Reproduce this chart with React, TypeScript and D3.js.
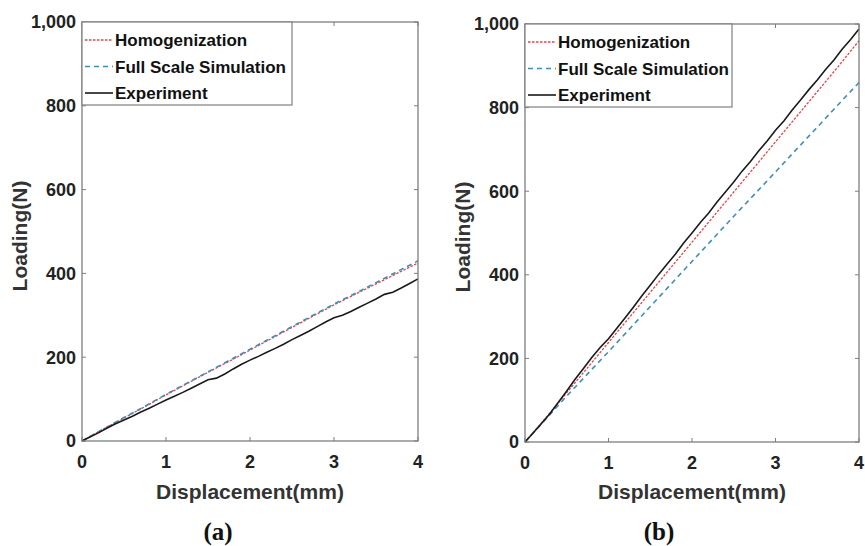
import React from "react";
import * as d3 from "d3";

// ---------- data ----------
const seriesNames = ["Homogenization", "Full Scale Simulation", "Experiment"];
const xTicks = [0, 1, 2, 3, 4];
const yTicks = [0, 200, 400, 600, 800, 1000];
const panelLabels = ["(a)", "(b)"];

const simX = [0, 0.25, 0.5, 0.75, 1, 1.25, 1.5, 1.75, 2, 2.25, 2.5, 2.75, 3, 3.25, 3.5, 3.75, 4];
const expX = [0, 0.1, 0.2, 0.3, 0.4, 0.5, 0.6, 0.7, 0.8, 0.9, 1.0, 1.1, 1.2, 1.3, 1.4, 1.5, 1.6, 1.7, 1.8, 1.9, 2.0,
  2.1, 2.2, 2.3, 2.4, 2.5, 2.6, 2.7, 2.8, 2.9, 3.0, 3.1, 3.2, 3.3, 3.4, 3.5, 3.6, 3.7, 3.8, 3.9, 4.0];

// panel (a)
const homA = [0, 28, 55, 82, 110, 137, 164, 190, 217, 244, 271, 298, 325, 350, 375, 400, 425];
const fullA = [0, 28, 56, 83, 111, 138, 165, 192, 219, 246, 273, 300, 327, 352, 378, 404, 430];
const expA = [0, 10, 20, 31, 41, 50, 59, 69, 78, 88, 98, 107, 116, 126, 136, 146, 150, 160, 172, 183, 193,
  202, 212, 221, 231, 242, 252, 262, 273, 284, 294, 300, 309, 319, 329, 339, 350, 355, 365, 376, 387];

// panel (b)
const homB = [0, 58, 118, 178, 238, 298, 358, 418, 478, 538, 598, 658, 718, 778, 838, 898, 960];
const fullB = [0, 55, 110, 163, 216, 270, 324, 378, 432, 486, 540, 593, 646, 700, 753, 807, 860];
const expB = [0, 22, 45, 68, 95, 122, 150, 176, 202, 226, 247, 272, 297, 323, 350, 375, 401, 425, 449, 476, 500,
  525, 548, 574, 598, 622, 648, 671, 697, 720, 746, 768, 794, 818, 843, 866, 891, 914, 940, 963, 988];

// ---------- styles ----------
const SANS = "'Liberation Sans', Arial, sans-serif";
const SERIF = "'Liberation Serif', 'Times New Roman', serif";
const AXIS_COLOR = "#7f7f7f";
const styles = [
  { color: "#e4434d", width: 1.3, dash: "2.5,1.5" },
  { color: "#3f8fb5", width: 1.6, dash: "5,4" },
  { color: "#1a1a1a", width: 1.6, dash: "" },
];

type PanelProps = {
  left: number; top: number; right: number; bottom: number;
  hom: number[]; full: number[]; exp: number[];
  label: string; yLabelX: number; yLabelY: number; labelX: number;
};

function Panel(p: PanelProps) {
  const x = d3.scaleLinear().domain([0, 4]).range([p.left, p.right]);
  const y = d3.scaleLinear().domain([0, 1000]).range([p.bottom, p.top]);
  const line = d3.line<[number, number]>().x(d => x(d[0])).y(d => y(d[1]));
  const data: [number, number][][] = [
    simX.map((v, i) => [v, p.hom[i]]),
    simX.map((v, i) => [v, p.full[i]]),
    expX.map((v, i) => [v, p.exp[i]]),
  ];
  const tl = 4;
  const cx = (p.left + p.right) / 2;
  const legW = p.right === 418 ? 210 : 207;
  const legH = 83;
  return (
    <g>
      {/* ticks */}
      {xTicks.map(t => (
        <g key={"x" + t}>
          <line x1={x(t)} x2={x(t)} y1={p.bottom} y2={p.bottom - tl} stroke={AXIS_COLOR} />
          <line x1={x(t)} x2={x(t)} y1={p.top} y2={p.top + tl} stroke={AXIS_COLOR} />
          <text x={x(t)} y={p.bottom + 27} textAnchor="middle" fontFamily={SANS} fontWeight="bold" fontSize={18} fill="#222">{t}</text>
        </g>
      ))}
      {yTicks.map(t => (
        <g key={"y" + t}>
          <line x1={p.left} x2={p.left + tl} y1={y(t)} y2={y(t)} stroke={AXIS_COLOR} />
          <line x1={p.right} x2={p.right - tl} y1={y(t)} y2={y(t)} stroke={AXIS_COLOR} />
          <text x={p.left - 6} y={y(t)} dy="0.36em" textAnchor="end" fontFamily={SANS} fontWeight="bold" fontSize={18} fill="#222">{d3.format(",")(t)}</text>
        </g>
      ))}
      {/* lines */}
      {data.map((d, i) => (
        <path key={i} d={line(d) || ""} fill="none" stroke={styles[i].color} strokeWidth={styles[i].width}
          strokeDasharray={styles[i].dash || undefined} />
      ))}
      {/* box */}
      <rect x={p.left} y={p.top} width={p.right - p.left} height={p.bottom - p.top} fill="none" stroke={AXIS_COLOR} strokeWidth={1.3} />
      {/* legend */}
      <rect x={p.left} y={p.top} width={legW} height={legH} fill="white" stroke={AXIS_COLOR} strokeWidth={1.2} />
      {seriesNames.map((n, i) => {
        const ly = p.top + 18 + i * 26.5;
        return (
          <g key={n}>
            <line x1={p.left + 3} x2={p.left + 31} y1={ly} y2={ly} stroke={styles[i].color}
              strokeWidth={styles[i].width} strokeDasharray={styles[i].dash || undefined} />
            <text x={p.left + 33} y={ly} dy="0.36em" fontFamily={SANS} fontWeight="bold" fontSize={17} fill="#111">{n}</text>
          </g>
        );
      })}
      {/* axis labels */}
      <text x={cx} y={499} textAnchor="middle" fontFamily={SANS} fontWeight="bold" fontSize={21} fill="#333">Displacement(mm)</text>
      <text transform={`translate(${p.yLabelX},${p.yLabelY}) rotate(-90)`} textAnchor="middle" fontFamily={SANS} fontWeight="bold" fontSize={21} fill="#333">Loading(N)</text>
      <text x={p.labelX} y={540} textAnchor="middle" fontFamily={SERIF} fontWeight="bold" fontSize={25} fill="#111">{p.label}</text>
    </g>
  );
}

export default function App() {
  return (
    <svg width={865} height={546} style={{ position: "absolute", left: 0, top: 0, background: "white" }}>
      <rect width={865} height={546} fill="white" />
      <Panel left={82} top={22} right={418} bottom={441} hom={homA} full={fullA} exp={expA}
        label={panelLabels[0]} yLabelX={27} yLabelY={236} labelX={218} />
      <Panel left={525} top={24} right={859} bottom={442} hom={homB} full={fullB} exp={expB}
        label={panelLabels[1]} yLabelX={470} yLabelY={237} labelX={659} />
    </svg>
  );
}
